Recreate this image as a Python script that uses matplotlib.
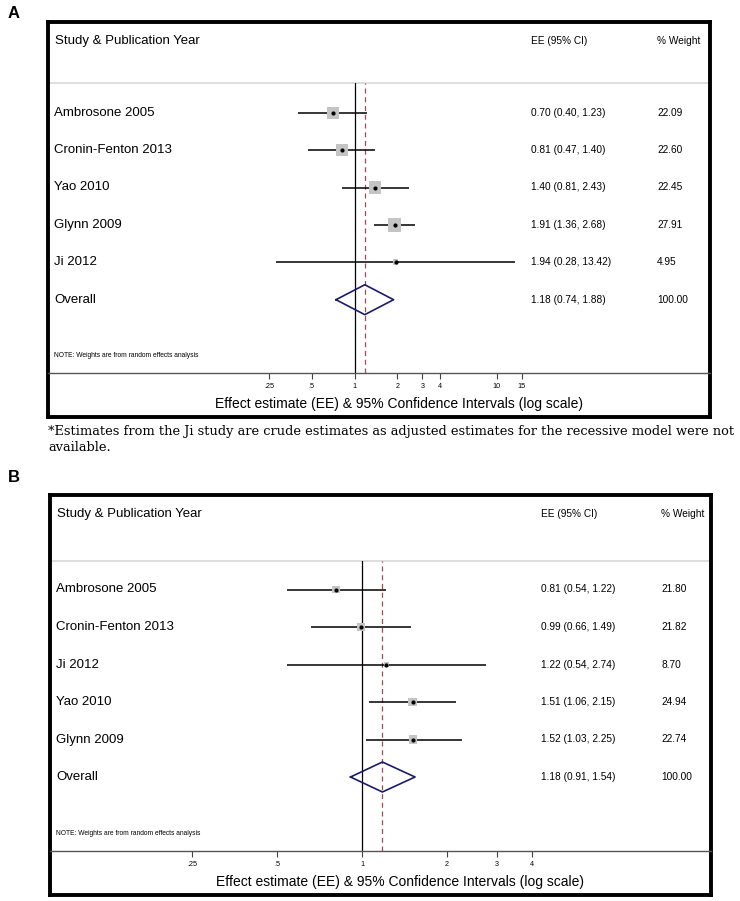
import matplotlib
matplotlib.use('Agg')
import matplotlib.pyplot as plt
import numpy as np

plt.rcParams['font.family'] = ['Liberation Sans', 'DejaVu Sans']

# ---- data ----
studies_a = ['Ambrosone 2005', 'Cronin-Fenton 2013', 'Yao 2010', 'Glynn 2009', 'Ji 2012']
est_a = [0.70, 0.81, 1.40, 1.91, 1.94]
lo_a = [0.40, 0.47, 0.81, 1.36, 0.28]
hi_a = [1.23, 1.40, 2.43, 2.68, 13.42]
wt_a = [22.09, 22.60, 22.45, 27.91, 4.95]
overall_a = (1.18, 0.74, 1.88)
ticks_a = [0.25, 0.5, 1, 2, 3, 4, 10, 15]
ticklabels_a = ['.25', '.5', '1', '2', '3', '4', '10', '15']

studies_b = ['Ambrosone 2005', 'Cronin-Fenton 2013', 'Ji 2012', 'Yao 2010', 'Glynn 2009']
est_b = [0.81, 0.99, 1.22, 1.51, 1.52]
lo_b = [0.54, 0.66, 0.54, 1.06, 1.03]
hi_b = [1.22, 1.49, 2.74, 2.15, 2.25]
wt_b = [21.80, 21.82, 8.70, 24.94, 22.74]
overall_b = (1.18, 0.91, 1.54)
ticks_b = [0.25, 0.5, 1, 2, 3, 4]
ticklabels_b = ['.25', '.5', '1', '2', '3', '4']

W, H = 740, 901
fig = plt.figure(figsize=(W / 100, H / 100), dpi=100)


def fig_rect(x0, y0, x1, y1):
    # pixel box (top-left origin) -> figure fraction rect
    return [x0 / W, 1 - y1 / H, (x1 - x0) / W, (y1 - y0) / H]


def panel(box, sep_y, axis_y, row0, dy, xlim, studies, est, lo, hi, wt, overall,
          ticks, ticklabels, size_k, ee_x, wt_x):
    x0, y0, x1, y1 = box
    # outer frame, pixel coordinates
    axb = fig.add_axes(fig_rect(x0, y0, x1, y1))
    axb.set_xlim(x0, x1)
    axb.set_ylim(y1, y0)
    axb.set_xticks([])
    axb.set_yticks([])
    for s in axb.spines.values():
        s.set_linewidth(2.8)
        s.set_color('black')
    axb.axhline(sep_y, color='#d8d8d8', lw=1.2)
    hy = y0 + 19
    axb.text(x0 + 7, hy, 'Study & Publication Year', fontsize=9.5, va='center', ha='left')
    axb.text(ee_x, hy, 'EE (95% CI)', fontsize=7.3, va='center', ha='left')
    axb.text(wt_x, hy, '% Weight', fontsize=7.3, va='center', ha='left')
    axb.text((x0 + x1) / 2 + 20, y1 - 13, 'Effect estimate (EE) & 95% Confidence Intervals (log scale)',
             fontsize=10, ha='center', va='center')

    # forest plot region
    ax = fig.add_axes(fig_rect(x0, sep_y, x1, axis_y))
    ax.patch.set_alpha(0)
    ax.set_xscale('log')
    ax.set_xlim(*xlim)
    top = (sep_y - row0) / dy
    bot = (axis_y - row0) / dy
    ax.set_ylim(bot, top)
    n = len(studies)
    rows = np.arange(n)

    ax.axvline(1, color='black', lw=0.9, zorder=1)
    ax.axvline(overall[0], color='#a04a5a', lw=0.9, ls=(0, (4, 3)), zorder=1)

    ax.hlines(rows, lo, hi, color='black', lw=1.1, zorder=2)
    ax.scatter(est, rows, s=np.array(wt) * size_k, marker='s', color='#c4c4c4',
               edgecolor='none', zorder=3)
    ax.plot(est, rows, 'o', color='black', ms=2.0, zorder=4)

    # overall diamond
    oe, ol, oh = overall
    ax.plot([ol, oe, oh, oe, ol], [n, n - 0.4, n, n + 0.4, n], color='#1b1b6b', lw=1.2, zorder=3)

    trans = ax.get_yaxis_transform()
    xf = lambda px: (px - x0) / (x1 - x0)
    for i, name in enumerate(studies + ['Overall']):
        ax.text(xf(x0 + 6), i, name, transform=trans, fontsize=9.5, va='center', ha='left')
    for i in range(n):
        ax.text(xf(ee_x), i, '%.2f (%.2f, %.2f)' % (est[i], lo[i], hi[i]), transform=trans,
                fontsize=7.3, va='center', ha='left')
        ax.text(xf(wt_x), i, '%.2f' % wt[i], transform=trans, fontsize=7.3, va='center', ha='left')
    ax.text(xf(ee_x), n, '%.2f (%.2f, %.2f)' % overall, transform=trans,
            fontsize=7.3, va='center', ha='left')
    ax.text(xf(wt_x), n, '%.2f' % 100, transform=trans, fontsize=7.3, va='center', ha='left')
    ax.text(xf(x0 + 6), n + 1.5, 'NOTE: Weights are from random effects analysis', transform=trans,
            fontsize=4.8, va='center', ha='left')

    for side in ['top', 'left', 'right']:
        ax.spines[side].set_visible(False)
    ax.spines['bottom'].set_color('#555555')
    ax.spines['bottom'].set_linewidth(1.0)
    ax.set_yticks([])
    ax.set_xticks(ticks)
    ax.set_xticklabels(ticklabels)
    ax.minorticks_off()
    ax.tick_params(axis='x', direction='out', length=4, width=0.8, color='#444444',
                   labelsize=5.2, pad=3)


panel((48, 22, 710, 417), 83, 373, 112.7, 37.4, (0.0070, 315),
      studies_a, est_a, lo_a, hi_a, wt_a, overall_a, ticks_a, ticklabels_a, 3.35, 531, 657)
panel((50, 495, 711, 895), 561, 851, 589.5, 37.5, (0.0785, 17.2),
      studies_b, est_b, lo_b, hi_b, wt_b, overall_b, ticks_b, ticklabels_b, 1.5, 541, 661)

fig.text(8 / W, 1 - 13 / H, 'A', fontsize=12, fontweight='bold', va='center', ha='left')
fig.text(8 / W, 1 - 478 / H, 'B', fontsize=12, fontweight='bold', va='center', ha='left')

fig.text(48 / W, 1 - 432 / H,
         '*Estimates from the Ji study are crude estimates as adjusted estimates for the recessive model were not',
         fontsize=9.4, family='DejaVu Serif', va='center', ha='left')
fig.text(48 / W, 1 - 448 / H, 'available.', fontsize=9.4, family='DejaVu Serif', va='center', ha='left')

fig.savefig('out.png', dpi=100, facecolor='white')
